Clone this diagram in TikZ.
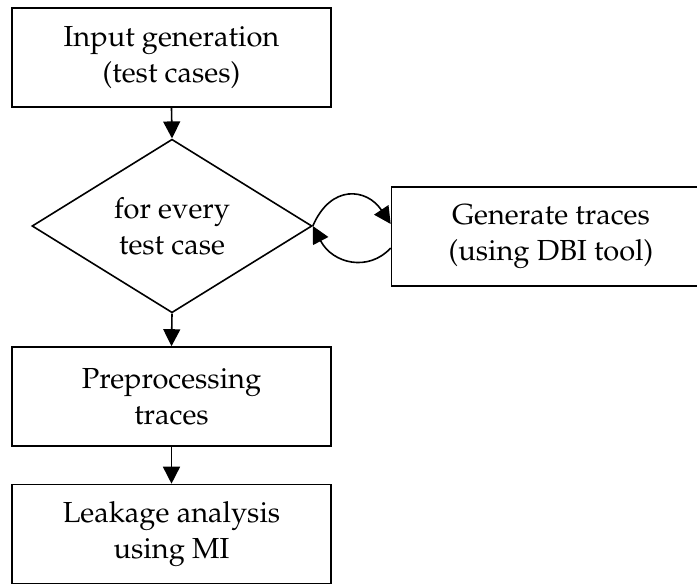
\documentclass[tikz,border=0pt]{standalone}
\usepackage[T1]{fontenc}
\usepackage{mathpazo}
\usetikzlibrary{shapes.geometric,arrows.meta}
\begin{document}
\begin{tikzpicture}[x=1pt,y=-1pt,
  every node/.style={font=\fontsize{29}{36}\selectfont, align=center},
  box/.style={draw, line width=1.6pt, rectangle, inner sep=0pt,
              minimum width=319pt, minimum height=99pt},
  decide/.style={draw, line width=1.6pt, diamond, inner sep=0pt,
              minimum width=280pt, minimum height=158pt},
  flow/.style={line width=1.6pt, -{Triangle[length=17pt,width=17pt]}}]
  \useasboundingbox (0,0) rectangle (697,585);
  \clip (0,0) rectangle (697,585);
  \fill[white] (0,0) rectangle (697,585);

  % main column
  \node[box]    (input) at (171.5,57.5)  {Input generation\\(test cases)};
  \node[decide] (loop)  at (172,226)     {for every\\test case};
  \node[box]    (prep)  at (171.5,396.5) {Preprocessing\\traces};
  \node[box]    (leak)  at (171.5,534)   {Leakage analysis\\using MI};

  % side step executed per test case
  \node[box]    (gen)   at (551,236.5)   {Generate traces\\(using DBI tool)};

  \draw[flow] (input.south) -- (loop.north);
  \draw[flow] (loop.south) -- (prep.north);
  \draw[flow] (prep.south) -- (leak.north);

  % loop between the decision and the trace generation
  \draw[flow] (loop.east) .. controls +(18,-42) and +(-24,-36) .. ([yshift=12.5pt]gen.west);
  \draw[flow] ([yshift=-11.5pt]gen.west) .. controls +(-22,24) and +(20,38) .. (loop.east);
\end{tikzpicture}
\end{document}
